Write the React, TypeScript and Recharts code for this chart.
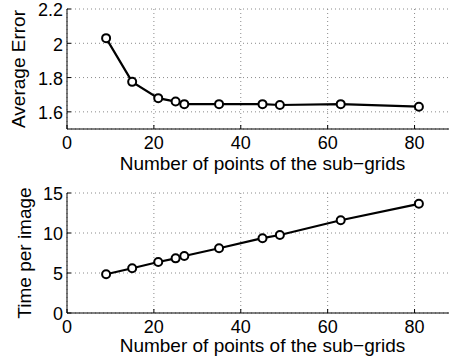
import { LineChart, Line, XAxis, YAxis, CartesianGrid, Label } from 'recharts';

const subGridPoints = [9, 15, 21, 25, 27, 35, 45, 49, 63, 81];
const averageError = [2.03, 1.775, 1.68, 1.66, 1.645, 1.645, 1.645, 1.64, 1.645, 1.63];
const timePerImage = [4.84, 5.6, 6.37, 6.83, 7.12, 8.1, 9.35, 9.75, 11.6, 13.65];
const xTicks = [0, 20, 40, 60, 80];
const errorTicks = [1.6, 1.8, 2, 2.2];
const timeTicks = [0, 5, 10, 15];

const errorData = subGridPoints.map((x, i) => ({ x, value: averageError[i] }));
const timeData = subGridPoints.map((x, i) => ({ x, value: timePerImage[i] }));

const FONT = '"Liberation Sans", Arial, Helvetica, sans-serif';
const FS = 18;
const TITLE_FS = 19;
const X_TITLE = 'Number of points of the sub\u2212grids';

// matlab style: ticks point into the plot box
function BottomTick({ x, y, payload, gap }: any) {
  return (
    <g>
      <line x1={x} x2={x} y1={y - gap} y2={y - gap - 4} stroke="#000" />
      <text x={x} y={y} dy="0.71em" textAnchor="middle" fontSize={FS} fontFamily={FONT} fill="#000">
        {payload.value}
      </text>
    </g>
  );
}

function TopTick({ x, y }: any) {
  return <line x1={x} x2={x} y1={y} y2={y + 4} stroke="#000" />;
}

function LeftTick({ x, y, payload }: any) {
  return (
    <g>
      <line x1={x + 4} x2={x + 8} y1={y} y2={y} stroke="#000" />
      <text x={x} y={y + 1} dy="0.355em" textAnchor="end" fontSize={FS} fontFamily={FONT} fill="#000">
        {payload.value}
      </text>
    </g>
  );
}

function YTitle({ viewBox, text, baseX }: any) {
  const cy = viewBox.y + viewBox.height / 2;
  return (
    <text transform={`translate(${baseX},${cy}) rotate(-90)`} textAnchor="middle" fontSize={TITLE_FS} fontFamily={FONT} fill="#000">
      {text}
    </text>
  );
}

function Panel({ data, yDomain, yTicks, yTitle, titleX, top, axisHeight, titleOffset, tickGap }: any) {
  return (
    <LineChart width={472} height={180} data={data} margin={{ top, right: 14, left: 0, bottom: 0 }}>
      <CartesianGrid strokeDasharray="1 3" stroke="#8a8a8a" />
      <XAxis
        type="number"
        dataKey="x"
        domain={[0, 90]}
        ticks={xTicks}
        allowDataOverflow
        height={axisHeight}
        axisLine={{ stroke: '#000', strokeWidth: 1 }}
        tickLine={false}
        tickSize={0}
        tickMargin={tickGap}
        tick={<BottomTick gap={tickGap} />}
      >
        <Label value={X_TITLE} position="insideBottom" offset={titleOffset} fontSize={TITLE_FS} fontFamily={FONT} fill="#000" />
      </XAxis>
      <XAxis
        xAxisId="top"
        orientation="top"
        type="number"
        domain={[0, 90]}
        ticks={xTicks}
        height={0}
        axisLine={{ stroke: '#000', strokeWidth: 1 }}
        tickLine={false}
        tickSize={0}
        tickMargin={0}
        tick={<TopTick />}
      />
      <YAxis
        type="number"
        domain={yDomain}
        ticks={yTicks}
        allowDataOverflow
        width={67}
        axisLine={{ stroke: '#000', strokeWidth: 1 }}
        tickLine={false}
        tickSize={0}
        tickMargin={4}
        tick={<LeftTick />}
      >
        <Label content={(p: any) => <YTitle {...p} text={yTitle} baseX={titleX} />} />
      </YAxis>
      <Line
        type="linear"
        dataKey="value"
        stroke="#000"
        strokeWidth={2.2}
        dot={{ r: 4, stroke: '#000', strokeWidth: 2, fill: '#fff' }}
        isAnimationActive={false}
      />
    </LineChart>
  );
}

export default function App() {
  return (
    <div
      style={{
        position: 'absolute',
        left: 0,
        top: 0,
        width: 449,
        height: 360,
        overflow: 'hidden',
        background: '#fff',
        fontFamily: FONT,
      }}
    >
      <Panel
        data={errorData}
        yDomain={[1.5, 2.2]}
        yTicks={errorTicks}
        yTitle="Average Error"
        titleX={25}
        top={9}
        axisHeight={51}
        titleOffset={10}
        tickGap={7}
      />
      <Panel
        data={timeData}
        yDomain={[0, 15]}
        yTicks={timeTicks}
        yTitle="Time per image"
        titleX={31}
        top={13}
        axisHeight={47}
        titleOffset={8}
        tickGap={7}
      />
    </div>
  );
}
